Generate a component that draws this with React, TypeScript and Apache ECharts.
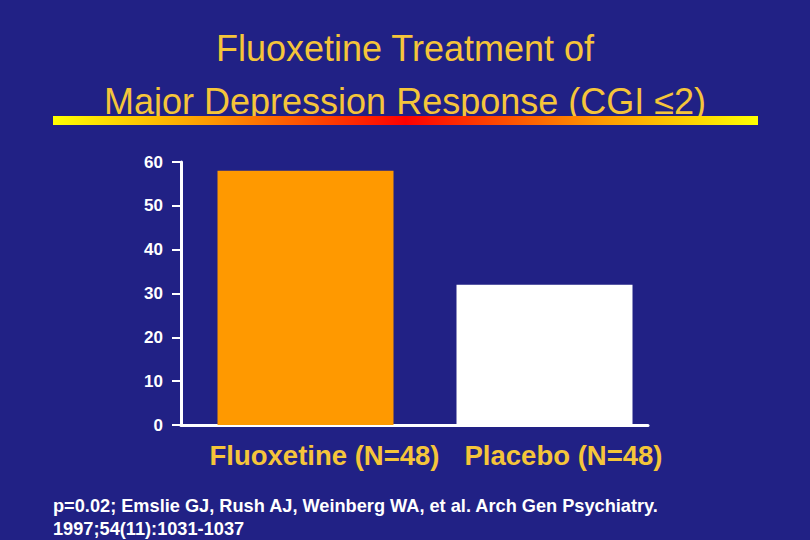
import React, { useEffect, useRef } from 'react';
import * as echarts from 'echarts';

const categories = ['Fluoxetine (N=48)', 'Placebo (N=48)'];
const responseRates = [58, 32];
const barColors = ['#FF9900', '#FFFFFF'];
const titleLines = ['Fluoxetine Treatment of', 'Major Depression Response (CGI \u22642)'];
const footnoteLines = [
	'p=0.02; Emslie GJ, Rush AJ, Weinberg WA, et al. Arch Gen Psychiatry.',
	'1997;54(11):1031-1037'
];

const BG = '#212185';
const YELLOW = '#F5C53A';
const FONT = 'Liberation Sans, Arial, sans-serif';

const App: React.FC = () => {
	const chartRef = useRef<HTMLDivElement>(null);

	useEffect(() => {
		if (!chartRef.current) return;
		document.body.style.margin = '0';
		const chart = echarts.init(chartRef.current, undefined, { renderer: 'svg' });

		const titleStyle = {
			color: YELLOW,
			fontSize: 36,
			fontWeight: 'normal',
			fontFamily: FONT
		};

		const option: any = {
			animation: false,
			backgroundColor: BG,
			textStyle: { fontFamily: FONT },
			title: [
				{ text: titleLines[0], left: 'center', top: 30, padding: 0, textStyle: titleStyle },
				{ text: titleLines[1], left: 'center', top: 83, padding: 0, textStyle: titleStyle },
				{
					text: footnoteLines.join('\n'),
					left: 53,
					top: 494,
					padding: 0,
					textStyle: {
						color: '#FFFFFF',
						fontSize: 18.2,
						fontWeight: 'bold',
						lineHeight: 23,
						fontFamily: FONT
					}
				}
			],
			graphic: [
				{
					type: 'rect',
					z: 10,
					shape: { x: 53, y: 116, width: 705, height: 9 },
					style: {
						fill: new echarts.graphic.LinearGradient(0, 0, 1, 0, [
							{ offset: 0, color: '#FFFF00' },
							{ offset: 0.22, color: '#FF9A00' },
							{ offset: 0.5, color: '#FF0000' },
							{ offset: 0.78, color: '#FF9A00' },
							{ offset: 1, color: '#FFFF00' }
						])
					}
				}
			],
			grid: [
				// axes frame
				{ left: 181, right: 162, top: 162, bottom: 115 },
				// bars
				{ left: 186, right: 146, top: 162, bottom: 115 }
			],
			xAxis: [
				{
					type: 'category',
					gridIndex: 0,
					data: ['', ''],
					axisLine: { lineStyle: { color: '#FFFFFF', width: 3 } },
					axisTick: { show: false },
					axisLabel: { show: false }
				},
				{
					type: 'category',
					gridIndex: 1,
					data: categories,
					axisLine: { show: false },
					axisTick: { show: false },
					axisLabel: {
						interval: 0,
						hideOverlap: false,
						color: YELLOW,
						fontSize: 27.5,
						fontWeight: 'bold',
						margin: 16,
						padding: [0, 0, 0, 38],
						fontFamily: FONT
					}
				}
			],
			yAxis: [
				{
					type: 'value',
					gridIndex: 0,
					min: 0,
					max: 60,
					interval: 10,
					axisLine: { show: true, lineStyle: { color: '#FFFFFF', width: 3 } },
					axisTick: { show: true, length: 9, lineStyle: { color: '#FFFFFF', width: 2 } },
					splitLine: { show: false },
					axisLabel: {
						color: '#FFFFFF',
						fontSize: 17,
						fontWeight: 'bold',
						margin: 18,
						fontFamily: FONT
					}
				},
				{
					type: 'value',
					gridIndex: 1,
					min: 0,
					max: 60,
					show: false
				}
			],
			series: [
				{
					type: 'bar',
					xAxisIndex: 1,
					yAxisIndex: 1,
					barWidth: 176,
					data: responseRates.map((v, i) => ({ value: v, itemStyle: { color: barColors[i] } }))
				}
			]
		};

		chart.setOption(option);
		return () => {
			chart.dispose();
		};
	}, []);

	return <div ref={chartRef} style={{ width: 810, height: 540 }} />;
};

export default App;
